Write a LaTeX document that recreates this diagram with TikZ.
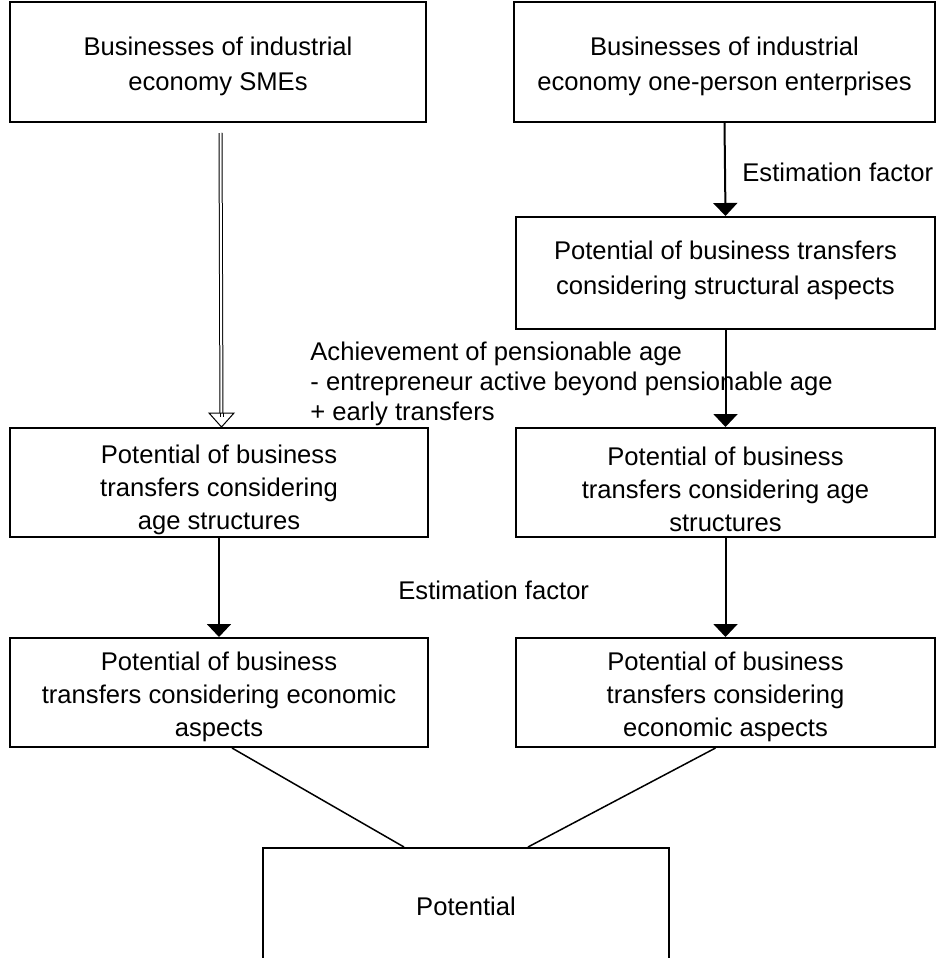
\documentclass[tikz,border=0pt]{standalone}
\usepackage{fontspec}
\setmainfont{Liberation Sans}
\usetikzlibrary{arrows.meta,calc}
\begin{document}
\begin{tikzpicture}[x=0.5pt,y=-0.5pt,
  box/.style={draw, line width=1pt, inner sep=0pt},
  btext/.style={inner sep=0pt, align=center, font=\fontsize{12.8pt}{17.5pt}\selectfont},
  btextc/.style={inner sep=0pt, align=center, font=\fontsize{12.8pt}{16.5pt}\selectfont},
  lbl/.style={inner sep=0pt, align=left, font=\fontsize{12.8pt}{15pt}\selectfont},
  solidarrow/.style={line width=1pt, -{Triangle[length=6.5pt,width=12pt]}}]
\useasboundingbox (0,0) rectangle (938,958);
\node[box, minimum width=208pt, minimum height=60pt,
  label={[btext, yshift=-2pt]center:Businesses of industrial\\economy SMEs}] (TL) at (218,62) {};
\node[box, minimum width=210.5pt, minimum height=60pt,
  label={[btext, yshift=-2pt]center:Businesses of industrial\\economy one-person enterprises}] (TR) at (724.5,62) {};
\node[box, minimum width=209.5pt, minimum height=56pt,
  label={[btext, yshift=1.5pt]center:Potential of business transfers\\considering structural aspects}] (ST) at (725.5,273) {};
\node[box, minimum width=209pt, minimum height=54.5pt,
  label={[btextc, yshift=-3.5pt]center:Potential of business\\transfers considering\\age structures}] (ML) at (219,482.5) {};
\node[box, minimum width=209.5pt, minimum height=54.5pt,
  label={[btextc, yshift=-3.5pt]center:Potential of business\\transfers considering age\\structures}] (MR) at (725.5,482.5) {};
\node[box, minimum width=209pt, minimum height=54.5pt,
  label={[btextc, yshift=-2pt]center:Potential of business\\transfers considering economic\\aspects}] (EL) at (219,692.5) {};
\node[box, minimum width=209.5pt, minimum height=54.5pt,
  label={[btextc, yshift=-2pt]center:Potential of business\\transfers considering\\economic aspects}] (ER) at (725.5,692.5) {};
\node[box, minimum width=203pt, minimum height=64pt,
  label={[btext, yshift=3pt]center:Potential}] (P) at (466,912) {};
% labels
\node[lbl, anchor=west] (ef1) at (742,172) {Estimation factor};
\node[lbl, anchor=west] (ef2) at (398,590) {Estimation factor};
\node[lbl, anchor=north west] (ach) at (310,342)
  {Achievement of pensionable age\\- entrepreneur active beyond pensionable age\\+ early transfers};
% solid arrows
\draw[solidarrow] (TR.south) -- (ST.north);
\draw[solidarrow] (ST.south) -- (MR.north);
\draw[solidarrow] (MR.south) -- (ER.north);
\draw[solidarrow] (ML.south) -- (EL.north);
% hollow arrow
\coordinate (hs) at ($(TL.south)+(2.5,10)$);
\coordinate (ht) at ($(ML.north)+(2.5,0)$);
\coordinate (hb) at ($(ht)+(0,-14)$);
\draw[line width=0.5pt, double=white, double distance=1pt] (hs) -- ($(hb)+(0,4)$);
\draw[line width=0.5pt, fill=white] ($(hb)+(-12.5,0)$) -- ($(hb)+(12.5,0)$) -- (ht) -- cycle;
\draw[line width=0.5pt] ($(hb)+(-1.5,0)$) -- ($(hb)+(-1.5,4)$) ($(hb)+(1.5,0)$) -- ($(hb)+(1.5,4)$);
% lines to potential
\draw[line width=0.75pt] ($(EL.south)+(13,0)$) -- ($(P.north)+(-62,0)$);
\draw[line width=0.75pt] ($(ER.south)+(-10,0)$) -- ($(P.north)+(62,0)$);
\end{tikzpicture}
\end{document}
